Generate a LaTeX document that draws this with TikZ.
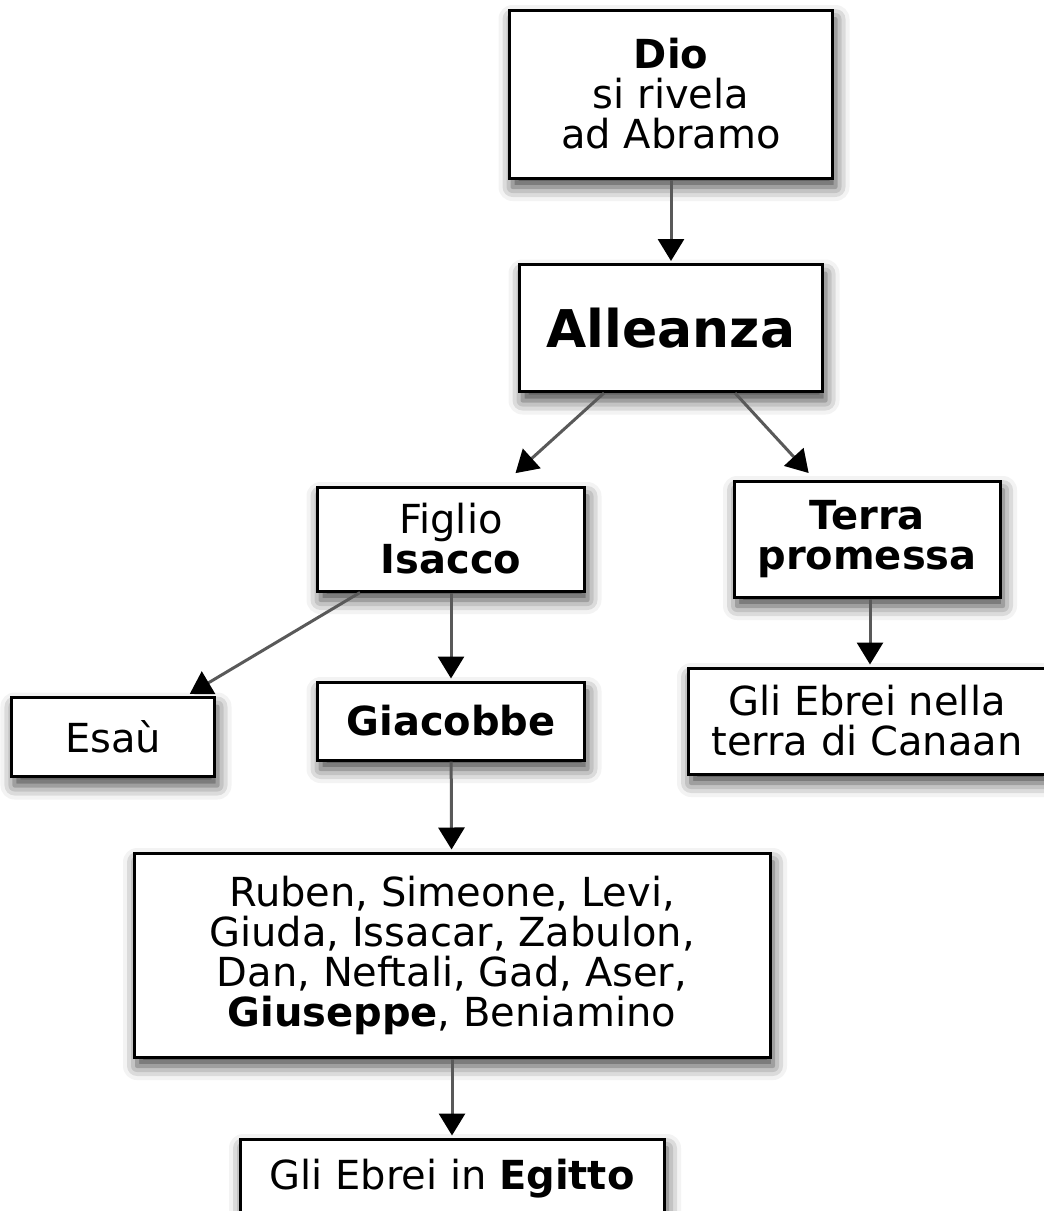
\documentclass[tikz,border=0pt]{standalone}
\usepackage{fontspec}
\setmainfont{DejaVu Sans}
\usepackage{tikz}
\usetikzlibrary{positioning,arrows.meta,shadows.blur}

\begin{document}
\begin{tikzpicture}[
    x=0.5pt, y=-0.5pt,
    box/.style={draw=black, line width=1.5pt, fill=white, align=center, inner sep=0pt,
        font=\fontsize{20}{20}\selectfont,
        blur shadow={shadow xshift=1.5pt, shadow yshift=-4.5pt, shadow blur radius=7pt, shadow opacity=75}},
    arr/.style={-{Triangle[width=13pt,length=11pt,color=black]}, draw=black!65, line width=1.5pt, shorten >=1pt},
]
\useasboundingbox (0,0) rectangle (1044,1211);

% --- TOP ---
\node[box, minimum width=161.5pt, minimum height=84pt] (dio) at (671,94)
    {\textbf{Dio}\\si rivela\\ad Abramo};
\node[box, minimum width=151.5pt, minimum height=63.5pt, font=\fontsize{26}{30}\selectfont\bfseries] (all) at (671,328)
    {Alleanza};

% --- MIDDLE ---
\node[box, minimum width=133.5pt, minimum height=52pt] (fig) at (451,539)
    {Figlio\\\textbf{Isacco}};
\node[box, minimum width=133pt, minimum height=58pt] (terra) at (867,539)
    {\textbf{Terra}\\\textbf{promessa}};
\node[box, minimum width=101.5pt, minimum height=39.5pt] (esau) at (113,737) {Esaù};
\node[box, minimum width=133.5pt, minimum height=39pt] (gia) at (451,721) {\textbf{Giacobbe}};
\node[box, minimum width=179pt, minimum height=53pt] (canaan) at (867,721)
    {Gli Ebrei nella\\terra di Canaan};

% --- BOTTOM ---
\node[box, minimum width=318pt, minimum height=102pt] (figli) at (452,955)
    {Ruben, Simeone, Levi,\\Giuda, Issacar, Zabulon,\\Dan, Neftali, Gad, Aser,\\\textbf{Giuseppe}, Beniamino};
\node[box, minimum width=212pt, minimum height=40pt] (egitto) at (452,1179)
    {Gli Ebrei in \textbf{Egitto}};

% arrows
\draw[arr] (dio) -- (all);
\draw[arr] ([xshift=-33.5pt]all.south) -- ([xshift=31.5pt, yshift=5.5pt]fig.north);
\draw[arr] ([xshift=32pt]all.south) -- ([xshift=-28.5pt, yshift=2.5pt]terra.north);
\draw[arr] ([xshift=-45.5pt]fig.south) -- ([xshift=37.5pt, yshift=0.5pt]esau.north);
\draw[arr] (fig) -- (gia);
\draw[arr] ([xshift=1.5pt]terra.south) -- ([xshift=1.5pt]canaan.north);
\draw[arr] (gia) -- (figli);
\draw[arr] (figli) -- (egitto);

\end{tikzpicture}
\end{document}
